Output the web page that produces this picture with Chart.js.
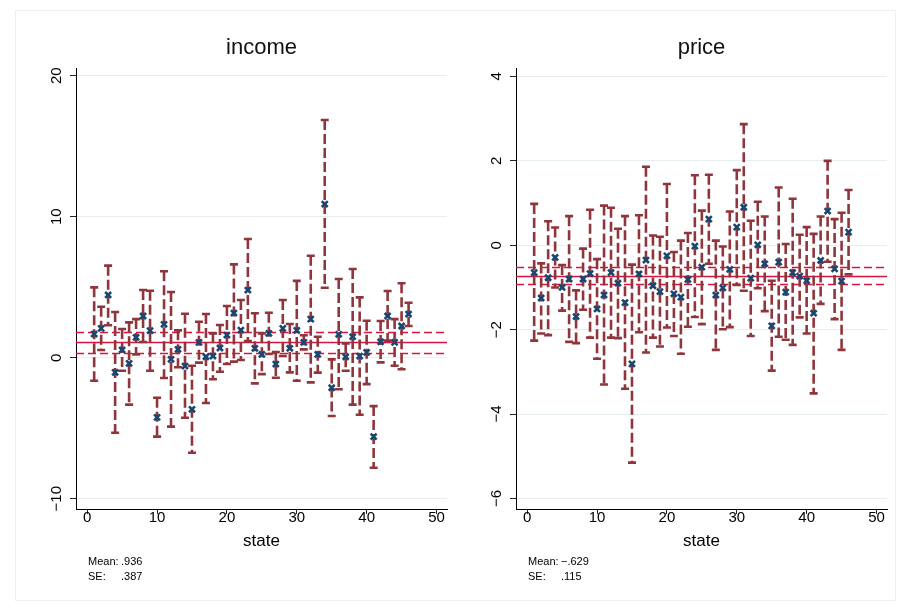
<!DOCTYPE html>
<html lang="en">
<head>
<meta charset="UTF-8">
<title>income and price by state</title>
<script src="https://cdn.jsdelivr.net/npm/chart.js"></script>
<style>
  html, body { margin: 0; padding: 0; background: #fff; }
  #wrap { position: relative; width: 910px; height: 610px; overflow: hidden; }
  #wrap canvas { position: absolute; top: 0; }
  #frame { position: absolute; left: 15px; top: 10px; width: 879px; height: 589px; border: 1px solid #efefef; }
</style>
</head>
<body>
<div id="wrap">
  <div id="frame"></div>
  <canvas id="incomeChart" width="455" height="610" style="left:0"></canvas>
  <canvas id="priceChart" width="455" height="610" style="left:440px"></canvas>
</div>
<script>
const states = [1, 2, 3, 4, 5, 6, 7, 8, 9, 10, 11, 12, 13, 14, 15, 16, 17, 18, 19, 20, 21, 22, 23,
                24, 25, 26, 27, 28, 29, 30, 31, 32, 33, 34, 35, 36, 37, 38, 39, 40, 41, 42, 43, 44, 45, 46];

// income: estimate, upper and lower bound per state
const incomeB = [1.68, 2.08, 4.45, -1.04, 0.55, -0.40, 1.45, 2.96, 1.92, -4.23, 2.37, -0.11, 0.60, -0.59, -3.66,
                 1.09, 0.07, 0.12, 0.69, 1.61, 3.17, 1.96, 4.80, 0.67, 0.24, 1.73, -0.45, 2.08, 0.67, 1.94,
                 1.09, 2.74, 0.24, 10.90, -2.13, 1.66, 0.07, 1.49, 0.12, 0.38, -5.60, 1.13, 2.96, 1.09, 2.25, 3.10];
const incomeHi = [4.99, 3.62, 6.53, 3.24, 2.04, 2.51, 2.74, 4.80, 4.75, -2.84, 6.13, 4.66, 1.94, 3.12, -0.57,
                  2.55, 3.10, 1.73, 2.32, 3.67, 6.62, 4.09, 8.42, 3.15, 1.73, 3.19, 0.40, 4.09, 2.39, 5.45,
                  1.59, 7.23, 1.49, 16.86, -0.12, 5.58, 1.02, 6.29, 4.28, 2.62, -3.43, 2.60, 4.73, 2.74, 5.28, 3.90];
const incomeLo = [-1.63, 0.55, 2.30, -5.32, -0.92, -3.33, 0.24, 1.11, -0.92, -5.60, -1.44, -4.89, -0.68, -4.26, -6.74,
                  -0.35, -3.21, -1.53, -0.99, -0.45, -0.28, -0.16, 1.18, -1.82, -1.16, 0.26, -1.42, 0.12, -1.04, -1.63,
                  0.59, -1.75, -1.06, 4.96, -4.13, -2.24, -0.92, -3.33, -4.04, -1.87, -7.80, -0.33, 1.21, -0.57, -0.82, 2.25];
const incomeMean = 1.08;
const incomeBand = [0.36, 1.80];
const incomeNote = ['.936', '.387'];

// price
const priceB = [-0.65, -1.25, -0.77, -0.29, -1.00, -0.80, -1.69, -0.80, -0.67, -1.51, -1.18, -0.65, -0.90, -1.36, -2.81,
                -0.68, -0.35, -0.96, -1.10, -0.25, -1.15, -1.23, -0.81, -0.02, -0.52, 0.62, -1.18, -1.01, -0.57, 0.43,
                0.90, -0.78, 0.01, -0.44, -1.91, -0.40, -1.11, -0.65, -0.73, -0.84, -1.61, -0.36, 0.81, -0.56, -0.85, 0.31];
const priceHi = [0.98, -0.43, 0.57, 0.42, -0.47, 0.69, -1.07, -0.08, 0.84, -0.33, 0.94, 0.89, 0.39, 0.69, -0.46,
                 0.71, 1.86, 0.23, 0.20, 1.45, -0.16, 0.11, 0.29, 1.66, 0.82, 1.67, 0.11, -0.03, 0.80, 1.78,
                 2.87, 0.58, 1.03, 0.68, -0.84, 1.37, 0.03, 1.10, 0.25, 0.43, 0.27, 0.68, 2.00, 0.62, 0.77, 1.31];
const priceLo = [-2.26, -2.09, -2.13, -1.00, -1.55, -2.29, -2.32, -1.53, -2.19, -2.69, -3.30, -2.19, -2.20, -3.40, -5.15,
                 -2.06, -2.54, -2.19, -2.40, -1.95, -2.15, -2.57, -1.93, -1.70, -1.87, -0.44, -2.48, -1.99, -1.94, -0.94,
                 -1.08, -2.15, -1.02, -1.56, -2.97, -2.17, -2.24, -2.36, -1.71, -2.09, -3.51, -1.39, -0.39, -1.75, -2.48, -0.69];
const priceMean = -0.72;
const priceBand = [-0.92, -0.52];
const priceNote = ['\u2212.629', '.115'];

Chart.defaults.font.family = '"Liberation Sans", Arial, sans-serif';
Chart.defaults.color = '#000';

// dashed capped bars plus the mean / band lines, drawn under the markers
const errorBars = {
    id: 'errorBars',
    beforeDatasetsDraw(chart, args, opts) {
        const { ctx, chartArea: a, scales: { x, y } } = chart;
        const snap = v => Math.round(y.getPixelForValue(v)) + 0.5;
        ctx.save();
        ctx.strokeStyle = '#d8143f';
        ctx.lineWidth = 1.4;
        ctx.setLineDash([8, 4]);
        opts.band.forEach(v => {
            const py = snap(v);
            ctx.beginPath(); ctx.moveTo(a.left, py); ctx.lineTo(a.right, py); ctx.stroke();
        });
        ctx.setLineDash([]);
        const pm = snap(opts.mean);
        ctx.beginPath(); ctx.moveTo(a.left, pm); ctx.lineTo(a.right, pm); ctx.stroke();

        ctx.strokeStyle = '#90353b';
        ctx.lineWidth = 2.6;
        states.forEach((s, i) => {
            const px = x.getPixelForValue(s);
            const top = y.getPixelForValue(opts.hi[i]);
            const bot = y.getPixelForValue(opts.lo[i]);
            ctx.setLineDash([10, 4]);
            ctx.beginPath(); ctx.moveTo(px, top); ctx.lineTo(px, bot); ctx.stroke();
            ctx.setLineDash([]);
            ctx.beginPath();
            ctx.moveTo(px - 4, top); ctx.lineTo(px + 4, top);
            ctx.moveTo(px - 4, bot); ctx.lineTo(px + 4, bot);
            ctx.stroke();
        });
        ctx.restore();
    },
    afterDraw(chart, args, opts) {
        const { ctx, chartArea: a } = chart;
        ctx.save();
        ctx.font = '11px "Liberation Sans", Arial, sans-serif';
        ctx.fillStyle = '#000';
        ctx.textBaseline = 'alphabetic';
        ctx.fillText('Mean:', a.left + 12, 565);
        ctx.fillText(opts.note[0], a.left + 45, 565);
        ctx.fillText('SE:', a.left + 12, 580);
        ctx.fillText(opts.note[1], a.left + 45, 580);
        ctx.restore();
    }
};

function makeChart(id, c) {
    return new Chart(document.getElementById(id), {
        type: 'scatter',
        data: {
            datasets: [{
                data: states.map((s, i) => ({ x: s, y: c.b[i] })),
                pointStyle: 'crossRot',
                radius: 4.2,
                borderWidth: 2.6,
                borderColor: '#1a476f',
                backgroundColor: '#1a476f'
            }]
        },
        options: {
            responsive: false,
            animation: false,
            layout: { padding: { left: 0, right: 8, top: 0, bottom: 0 } },
            plugins: {
                legend: { display: false },
                tooltip: { enabled: false },
                title: {
                    display: true, text: c.title, fullSize: false, color: '#111',
                    font: { size: 22, weight: 'normal' },
                    padding: { top: 34.8, bottom: 6.8 }
                },
                errorBars: { hi: c.hi, lo: c.lo, mean: c.mean, band: c.band, note: c.note }
            },
            scales: {
                x: {
                    type: 'linear', min: -1.6, max: 51.5,
                    afterFit: s => { s.height = 101; },
                    ticks: { stepSize: 10, includeBounds: false, maxRotation: 0, padding: -5, font: { size: 15 }, color: '#000' },
                    grid: { drawOnChartArea: false, tickLength: 5, tickColor: '#222' },
                    border: { color: '#000' },
                    title: { display: true, text: 'state', color: '#000', font: { size: 17 }, padding: { top: 0, bottom: 58 } }
                },
                y: {
                    min: c.ymin, max: c.ymax,
                    afterFit: s => { s.width = 76; },
                    ticks: {
                        stepSize: c.step, includeBounds: false, minRotation: 90, maxRotation: 90,
                        crossAlign: 'center', padding: c.tickPad, font: { size: 15 }, color: '#000',
                        callback: v => v < 0 ? '\u2212' + Math.abs(v) : String(v)
                    },
                    grid: { color: '#e6eef0', tickLength: 6, tickColor: '#222' },
                    border: { color: '#000' }
                }
            }
        },
        plugins: [errorBars]
    });
}

makeChart('incomeChart', {
    title: 'income', b: incomeB, hi: incomeHi, lo: incomeLo, mean: incomeMean, band: incomeBand,
    note: incomeNote, ymin: -10.73, ymax: 20.55, step: 10, tickPad: 0
});
makeChart('priceChart', {
    title: 'price', b: priceB, hi: priceHi, lo: priceLo, mean: priceMean, band: priceBand,
    note: priceNote, ymin: -6.25, ymax: 4.2, step: 2, tickPad: 4.5
});
</script>
</body>
</html>
